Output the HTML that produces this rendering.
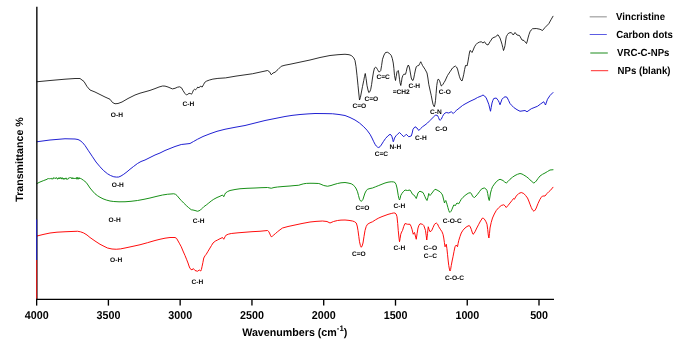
<!DOCTYPE html>
<html><head><meta charset="utf-8"><title>FTIR</title>
<style>
html,body{margin:0;padding:0;background:#fff;}
svg{display:block;font-family:"Liberation Sans",Arial,sans-serif;font-weight:bold;text-rendering:geometricPrecision;}
.c{fill:none;stroke-width:0.95;stroke-linejoin:round;stroke-linecap:round;}
.ax line{stroke:#000;stroke-width:1.35;}
.lab text{font-size:6.6px;fill:#000;}
.tl text{font-size:10.75px;fill:#000;}
.lg text{font-size:9.62px;fill:#000;}
</style></head><body>
<svg width="685" height="350" viewBox="0 0 685 350">
<rect width="685" height="350" fill="#fff"/>
<polyline class="c" style="stroke-width:0.82" stroke="#000" points="37.00,81.75 50.00,80.50 65.00,79.20 75.00,78.50 80.00,78.50 84.00,81.50 87.00,86.50 90.00,90.00 95.00,92.00 100.00,94.50 105.00,97.00 110.00,99.25 112.50,102.50 115.00,103.75 118.00,103.50 122.00,102.00 128.00,98.50 135.00,95.00 140.00,93.20 145.00,91.80 150.00,90.40 155.00,88.60 159.00,87.00 162.60,86.00 165.00,86.10 168.00,87.00 172.40,88.90 175.00,88.30 177.50,87.20 179.60,86.80 181.50,87.80 183.00,90.50 184.80,93.30 186.50,95.00 187.80,94.30 189.00,93.30 190.30,93.50 191.50,94.20 192.50,92.50 193.40,90.20 194.70,89.20 195.50,89.90 196.70,88.50 197.80,87.00 199.00,87.90 200.30,86.20 202.20,87.00 203.50,84.70 204.70,82.40 206.60,81.10 209.50,80.00 212.90,79.10 217.90,78.40 225.50,77.90 236.00,76.10 252.50,73.75 267.50,70.50 269.50,71.75 271.25,74.75 273.00,73.00 275.00,72.25 278.00,69.50 281.25,66.25 285.00,65.20 290.00,64.25 310.00,60.00 320.00,57.50 330.00,55.50 338.00,54.70 345.00,54.25 349.00,54.70 351.25,55.50 353.50,57.50 355.00,60.50 356.00,66.50 357.00,75.50 358.00,85.50 358.75,93.00 359.50,100.00 360.40,97.50 361.25,93.00 362.50,86.50 363.75,80.50 364.50,76.50 365.25,73.50 366.10,78.50 367.00,85.50 368.00,90.00 368.75,92.50 369.80,91.80 370.75,89.25 371.60,84.50 372.50,78.00 373.50,72.00 374.50,68.00 375.40,67.30 376.25,67.50 377.50,69.50 378.75,71.75 379.80,71.70 380.75,70.50 381.60,65.50 382.50,59.25 384.00,55.00 385.50,52.50 387.50,52.25 389.50,53.50 391.25,55.50 392.30,58.50 393.25,63.00 393.90,68.50 394.50,75.50 395.50,80.50 396.20,76.50 397.00,71.75 398.25,70.50 398.90,74.00 399.50,79.25 400.10,83.00 400.75,85.50 401.40,82.50 402.00,78.00 402.90,75.50 403.75,74.25 405.50,74.25 406.30,71.50 407.00,68.00 408.25,65.00 408.90,66.00 409.50,68.00 410.40,73.00 411.25,78.00 412.10,80.00 413.00,80.50 413.80,78.00 414.50,74.25 415.40,70.00 416.25,66.75 417.50,65.80 418.75,65.50 419.80,63.50 420.75,61.75 421.60,63.50 422.50,65.50 425.00,69.25 427.00,73.00 427.90,78.00 428.75,84.25 430.00,90.00 431.25,95.50 432.10,100.00 433.00,104.25 434.25,106.75 434.90,104.50 435.50,100.50 436.10,93.50 436.75,85.50 437.40,81.50 438.00,79.25 438.80,79.50 439.50,80.50 440.40,83.30 441.25,86.00 442.10,85.40 443.00,84.25 444.00,82.50 445.00,81.00 447.50,75.50 450.00,71.75 452.50,68.00 454.00,66.80 455.50,66.10 456.50,67.00 457.50,69.00 458.50,73.00 459.50,76.75 460.70,79.80 462.00,81.00 462.90,78.00 463.75,74.25 464.60,69.50 465.50,65.50 466.30,65.50 467.00,66.00 467.90,62.00 468.75,56.75 469.40,53.00 470.00,50.50 471.00,51.20 472.00,52.50 473.20,50.00 474.50,46.75 476.00,44.50 477.50,43.00 479.50,42.10 481.25,41.75 483.00,43.00 484.50,41.75 486.25,44.25 488.00,45.00 490.00,41.75 492.50,38.00 495.50,36.75 498.00,34.75 500.00,38.00 501.00,41.00 502.00,44.25 502.80,47.50 503.50,50.50 504.30,48.50 505.00,45.50 505.60,41.00 506.25,36.75 507.50,34.50 508.75,33.00 511.25,32.50 513.25,35.00 515.00,32.50 517.00,35.00 519.50,35.50 522.00,40.00 524.00,40.50 526.50,43.50 527.30,41.00 528.00,38.00 529.00,34.50 530.00,31.75 531.20,30.00 532.50,28.75 536.25,28.50 540.00,29.25 542.50,30.50 545.00,27.50 548.75,23.75 551.25,19.25 553.00,16.25"/>
<polyline class="c" stroke="#1414d0" points="37.00,141.75 50.00,140.00 65.00,138.75 75.00,139.00 78.00,139.50 80.00,140.50 82.50,142.50 85.00,145.50 88.50,150.80 92.50,156.75 96.00,162.00 100.00,166.75 103.50,170.50 107.50,173.75 110.50,175.50 113.75,176.75 116.50,177.10 118.75,177.00 121.00,176.00 123.75,174.25 127.00,171.80 130.00,169.25 133.50,166.50 137.50,163.50 141.00,161.50 145.00,160.00 150.00,157.50 155.00,155.00 160.00,153.00 165.00,150.50 170.00,148.50 175.00,146.50 181.25,144.50 185.00,144.10 190.00,143.50 193.50,141.50 197.50,139.25 203.00,136.50 210.00,133.75 217.00,131.30 225.00,129.25 235.00,127.30 245.00,125.50 255.00,123.00 265.00,120.50 275.00,118.50 285.00,116.50 292.00,115.40 300.00,114.50 308.00,113.90 315.00,113.50 325.00,113.60 332.50,113.75 339.00,114.50 345.00,115.50 350.00,117.50 355.00,120.00 359.50,123.00 363.75,126.75 367.00,130.20 370.00,134.25 372.00,138.00 373.75,141.75 375.00,144.20 376.25,146.00 377.50,147.10 378.75,147.50 380.00,146.70 381.25,145.00 383.30,141.70 385.50,138.50 387.80,136.00 390.00,134.25 391.10,135.00 392.00,136.75 392.70,139.50 393.25,141.75 393.90,140.20 394.50,138.00 396.00,135.80 397.50,134.25 399.50,132.50 401.25,134.25 403.75,136.75 406.25,134.25 408.75,136.75 411.25,136.00 412.20,133.00 413.00,129.25 415.00,126.75 417.00,128.00 418.75,130.50 420.50,128.70 422.50,126.75 425.00,125.00 427.50,123.00 430.00,120.50 432.50,118.00 434.00,116.50 435.50,115.00 437.50,115.50 438.50,117.50 439.50,120.00 440.40,120.00 441.25,119.25 442.50,116.50 443.75,114.25 445.00,113.10 446.25,112.50 448.75,113.00 451.25,111.75 453.25,113.50 454.70,112.00 456.25,110.50 460.00,107.50 462.50,105.50 465.00,104.00 470.00,101.30 475.00,99.00 477.50,97.50 481.25,96.00 483.00,95.00 484.60,96.00 486.25,98.00 487.50,101.00 488.75,104.25 489.70,108.00 490.50,111.25 491.20,107.50 492.00,103.00 492.90,100.30 493.75,98.50 496.25,98.00 498.25,100.50 499.20,102.50 500.00,104.75 501.00,102.00 502.00,99.25 503.50,97.70 505.00,96.75 507.00,97.25 508.50,100.30 510.00,103.50 512.00,105.70 513.75,107.50 517.00,109.70 520.00,111.25 525.00,110.50 527.00,111.75 531.25,108.75 537.50,106.25 540.50,104.00 543.75,101.75 544.70,103.50 545.50,105.00 546.50,102.00 547.50,99.25 550.00,95.50 553.00,92.50"/>
<polyline class="c" stroke="#0c8a0c" points="37.00,183.50 40.00,182.00 43.75,180.50 47.00,179.30 48.00,178.49 48.50,178.57 49.00,178.61 49.50,178.71 50.00,178.57 50.50,178.70 51.00,178.07 51.50,178.33 52.00,179.24 52.50,178.68 53.00,179.16 53.50,177.67 54.00,178.34 54.50,177.92 55.00,178.48 55.50,178.54 56.00,177.47 56.50,177.86 57.00,177.98 57.50,179.19 58.00,178.90 58.50,177.75 59.00,178.96 59.50,177.71 60.00,178.62 60.50,177.69 61.00,177.45 61.50,179.11 62.00,177.85 62.50,177.86 63.00,179.32 63.50,179.11 64.00,178.00 64.50,179.28 65.00,178.47 65.50,178.74 66.00,177.84 66.50,179.24 67.00,178.76 67.50,179.29 68.00,179.15 68.50,178.02 69.00,178.14 69.50,177.77 70.00,177.73 70.50,177.57 71.00,178.02 71.50,178.60 72.00,177.46 72.50,178.74 73.00,178.09 73.50,178.04 74.00,179.01 74.50,178.36 75.00,178.05 75.50,178.36 76.00,178.79 76.50,177.56 77.00,179.30 77.50,177.49 78.00,178.87 78.50,179.06 79.00,177.48 79.50,178.95 80.00,178.31 80.50,178.45 81.25,178.75 83.50,180.30 86.25,182.50 88.00,185.00 90.00,188.00 92.50,191.00 95.00,193.75 97.50,195.70 100.00,197.25 103.00,198.80 106.25,200.00 110.00,201.00 113.75,201.50 119.00,201.80 125.00,201.75 131.00,201.30 137.50,200.50 144.00,199.30 150.00,198.00 156.00,196.50 162.50,195.00 167.50,194.25 173.75,193.75 175.50,194.30 177.00,195.50 179.00,198.00 181.25,200.50 183.70,203.00 186.25,205.50 188.70,207.70 191.25,209.75 193.00,210.00 195.00,210.50 197.50,211.25 199.00,210.80 200.50,210.00 202.00,208.50 203.75,206.75 206.25,205.00 208.75,203.00 211.20,201.00 213.75,199.25 217.00,197.50 220.00,196.25 222.50,195.00 223.75,196.75 224.60,194.80 225.50,193.00 227.70,191.50 230.00,190.50 235.00,189.50 240.00,188.75 247.00,188.30 255.00,188.00 261.00,187.70 267.50,187.50 271.25,188.25 274.00,187.50 277.50,187.00 283.00,186.50 290.00,186.00 294.00,185.60 298.75,185.25 301.00,184.50 303.75,183.75 306.50,183.40 310.00,183.25 314.00,183.30 318.75,183.50 321.00,184.30 323.75,185.50 327.50,186.25 331.00,185.50 334.00,184.50 337.50,183.50 341.00,182.80 345.00,182.50 348.00,183.00 351.25,183.75 353.20,185.00 355.00,186.75 356.30,189.00 357.50,191.75 358.50,195.50 359.50,199.25 360.40,200.80 361.25,201.25 362.10,200.70 363.00,199.25 364.00,196.00 365.00,193.00 366.20,190.80 367.50,189.25 370.00,188.50 372.50,188.00 375.50,186.80 378.75,185.50 382.00,184.20 385.00,183.00 388.00,182.20 391.25,181.75 393.50,181.90 395.00,182.50 396.10,184.50 397.00,188.00 397.70,192.00 398.25,195.50 398.90,198.50 399.50,200.00 400.10,198.50 400.75,195.50 402.00,193.30 403.25,191.75 405.00,190.00 407.50,190.50 410.00,190.00 411.30,192.00 412.50,194.25 414.50,195.50 415.40,197.20 416.25,198.50 417.10,196.00 418.00,193.00 419.00,191.80 420.00,191.25 423.00,192.50 424.00,194.50 425.00,196.75 426.00,199.00 427.00,200.50 427.90,197.50 428.75,193.50 429.40,194.70 430.00,195.50 431.00,194.30 432.00,193.00 433.50,191.00 435.00,189.25 437.00,190.00 440.00,191.75 441.30,193.20 442.50,195.00 443.50,199.00 444.50,203.00 445.10,201.50 445.75,200.50 446.40,202.20 447.00,204.25 447.90,207.50 448.75,210.50 449.40,212.00 450.00,212.50 451.00,211.30 452.00,209.25 452.90,207.00 453.75,205.00 455.50,205.50 456.20,204.00 457.00,203.00 458.75,203.75 460.00,201.50 461.25,199.25 463.00,197.30 465.00,195.50 467.00,194.00 468.75,193.00 470.50,192.70 471.50,194.00 472.50,196.00 473.50,197.20 474.50,197.50 476.00,196.00 477.50,194.25 479.40,191.70 481.25,189.25 483.00,188.30 484.50,188.00 485.75,188.80 487.00,190.50 487.70,193.50 488.25,196.75 488.80,199.50 489.25,200.50 489.90,197.00 490.50,193.00 491.50,189.50 492.50,186.75 494.40,184.10 496.25,181.75 498.20,180.20 500.00,179.25 503.00,180.50 504.70,182.00 506.25,183.00 508.00,181.50 510.00,179.25 512.50,177.20 515.00,175.50 517.50,174.30 520.00,173.50 522.00,174.00 523.75,175.00 526.20,176.50 528.75,178.50 531.20,181.00 533.75,183.00 535.00,182.30 536.25,181.00 538.00,178.50 540.00,176.00 542.50,174.30 545.00,173.00 547.50,171.50 550.00,170.00 553.00,169.75"/>
<polyline class="c" stroke="#ff0000" points="37.00,236.00 43.00,234.50 50.00,233.00 57.00,232.20 65.00,231.75 71.00,231.50 77.50,231.25 80.50,231.80 83.75,233.00 87.00,235.00 90.00,237.50 95.00,241.00 100.00,244.25 104.00,246.30 107.50,248.00 112.00,249.00 116.25,249.25 120.50,248.90 125.00,248.00 132.00,246.50 140.00,244.75 147.50,242.70 155.00,240.50 160.00,239.25 165.00,238.20 170.00,237.50 175.00,237.50 176.50,238.30 177.50,240.00 179.30,243.20 181.25,246.75 183.00,251.00 185.00,255.50 186.50,259.20 188.00,263.00 189.00,266.00 190.00,268.50 192.00,270.00 193.25,268.50 195.00,270.50 197.50,271.25 199.25,270.00 200.75,271.00 201.40,269.50 202.00,266.75 202.90,262.50 203.75,258.00 205.00,255.80 206.25,254.25 208.00,251.30 210.00,248.00 211.50,245.50 213.00,243.00 215.20,241.20 217.50,240.00 220.00,238.70 222.50,237.50 223.75,239.25 225.00,236.80 226.25,235.00 228.70,234.10 231.25,233.50 238.00,232.80 245.00,232.25 252.00,231.70 260.00,231.25 267.50,230.50 268.50,231.30 269.50,233.00 270.40,235.20 271.25,236.75 272.50,236.10 273.75,235.00 275.50,233.50 277.50,231.75 280.00,229.80 282.50,228.00 288.00,226.50 295.00,225.00 302.00,223.50 310.00,222.00 316.00,221.40 322.50,221.00 327.00,221.50 330.00,223.00 333.50,221.50 337.50,220.50 341.00,220.10 345.00,220.00 349.00,220.40 352.50,221.00 354.50,221.70 356.25,223.00 357.20,226.00 358.00,230.50 358.80,236.50 359.50,241.75 360.40,245.50 361.25,247.25 362.10,246.00 363.00,243.00 364.00,236.50 365.00,230.50 366.20,226.50 367.50,224.25 370.00,222.80 372.50,221.75 375.50,219.80 378.75,218.00 382.00,216.60 385.00,215.50 388.00,214.40 391.25,213.50 393.30,213.00 395.00,213.00 396.10,214.00 397.00,216.75 397.70,223.50 398.25,230.50 398.90,237.00 399.50,241.75 400.10,238.50 400.75,234.25 401.60,232.00 402.50,230.50 403.70,226.50 405.00,223.50 407.50,224.25 410.00,224.25 411.00,226.20 412.00,229.25 412.70,232.00 413.25,234.25 413.90,233.00 414.50,232.50 415.40,236.00 416.25,239.25 417.10,233.50 418.00,228.00 419.00,225.20 420.00,223.75 422.50,224.25 423.75,225.50 424.70,228.00 425.50,230.50 426.20,235.50 426.75,240.00 427.50,233.50 428.25,226.75 429.10,229.50 430.00,231.75 431.75,230.50 433.00,227.50 434.50,224.25 436.25,223.00 437.50,224.00 438.75,226.75 440.30,229.20 442.00,231.75 443.00,234.30 443.75,238.00 444.40,242.50 445.00,246.75 445.60,246.00 446.25,244.25 446.90,248.50 447.50,254.25 448.10,260.00 448.75,265.50 449.40,269.00 450.00,271.00 450.60,269.50 451.25,265.50 452.10,261.00 453.00,256.75 454.00,251.50 455.00,246.75 456.25,245.00 457.50,246.75 458.10,243.50 458.75,240.50 460.00,236.50 461.25,233.00 463.00,230.20 465.00,228.00 467.00,226.50 469.25,225.50 470.30,227.00 471.25,229.25 472.10,232.00 473.00,234.25 474.00,233.50 475.00,231.75 476.80,228.00 478.75,224.25 480.50,221.00 482.50,218.00 483.70,218.40 485.00,220.00 486.00,221.80 487.00,224.25 487.70,229.50 488.30,235.00 488.90,238.00 489.50,233.50 490.00,228.00 491.20,222.50 492.50,218.00 494.30,214.00 496.25,210.50 498.70,207.70 501.25,205.50 503.75,204.75 505.00,205.80 506.25,207.50 508.00,205.50 510.00,203.00 512.00,200.50 513.50,198.50 514.30,199.30 516.25,196.00 518.75,193.50 521.25,192.50 523.75,193.50 525.60,195.50 527.50,198.00 528.80,201.00 530.00,204.25 531.20,207.30 532.50,210.00 534.00,211.25 535.20,210.00 536.25,208.00 538.00,203.50 540.00,199.25 541.30,197.30 542.50,196.00 545.00,196.00 547.00,193.50 548.75,191.75 550.50,190.30 553.00,187.25"/>
<g class="ax">
<line x1="36.85" y1="6.7" x2="36.85" y2="299.8"/>
<line x1="36.6" y1="219.5" x2="36.6" y2="260" style="stroke:#2222bb;stroke-width:1.1"/>
<line x1="36.6" y1="260" x2="36.6" y2="298.7" style="stroke:#d81818;stroke-width:1.1"/>
<line x1="36.15" y1="299.4" x2="554.0" y2="299.4"/>
<line x1="36.65" y1="299.4" x2="36.65" y2="305.6"/>
<line x1="108.4" y1="299.4" x2="108.4" y2="305.6"/>
<line x1="180.15" y1="299.4" x2="180.15" y2="305.6"/>
<line x1="251.95" y1="299.4" x2="251.95" y2="305.6"/>
<line x1="323.7" y1="299.4" x2="323.7" y2="305.6"/>
<line x1="395.5" y1="299.4" x2="395.5" y2="305.6"/>
<line x1="467.25" y1="299.4" x2="467.25" y2="305.6"/>
<line x1="539.0" y1="299.4" x2="539.0" y2="305.6"/>
</g>
<g class="tl">
<text transform="translate(36.75,318.5) scale(1,1.06)" text-anchor="middle">4000</text>
<text transform="translate(108.50,318.5) scale(1,1.06)" text-anchor="middle">3500</text>
<text transform="translate(180.25,318.5) scale(1,1.06)" text-anchor="middle">3000</text>
<text transform="translate(252.05,318.5) scale(1,1.06)" text-anchor="middle">2500</text>
<text transform="translate(323.80,318.5) scale(1,1.06)" text-anchor="middle">2000</text>
<text transform="translate(395.60,318.5) scale(1,1.06)" text-anchor="middle">1500</text>
<text transform="translate(467.35,318.5) scale(1,1.06)" text-anchor="middle">1000</text>
<text transform="translate(539.10,318.5) scale(1,1.06)" text-anchor="middle">500</text>
</g>
<g class="lab">
<text x="116.90" y="117.15" text-anchor="middle">O-H</text>
<text x="188.40" y="105.85" text-anchor="middle">C-H</text>
<text x="359.25" y="108.45" text-anchor="middle">C=O</text>
<text x="371.25" y="101.45" text-anchor="middle">C=O</text>
<text x="383.10" y="79.20" text-anchor="middle">C=C</text>
<text x="401.20" y="93.85" text-anchor="middle">=CH2</text>
<text x="414.25" y="88.15" text-anchor="middle">C-H</text>
<text x="435.80" y="113.70" text-anchor="middle">C-N</text>
<text x="444.75" y="94.00" text-anchor="middle">C-O</text>
<text x="117.80" y="187.05" text-anchor="middle">O-H</text>
<text x="381.35" y="156.15" text-anchor="middle">C=C</text>
<text x="395.40" y="149.25" text-anchor="middle">N-H</text>
<text x="420.90" y="139.80" text-anchor="middle">C-H</text>
<text x="441.40" y="130.55" text-anchor="middle">C-O</text>
<text x="114.65" y="222.05" text-anchor="middle">O-H</text>
<text x="198.65" y="222.80" text-anchor="middle">C-H</text>
<text x="362.40" y="209.55" text-anchor="middle">C=O</text>
<text x="399.40" y="207.55" text-anchor="middle">C-H</text>
<text x="452.30" y="222.55" text-anchor="middle">C-O-C</text>
<text x="116.15" y="262.05" text-anchor="middle">O-H</text>
<text x="197.40" y="283.80" text-anchor="middle">C-H</text>
<text x="358.75" y="256.10" text-anchor="middle">C=O</text>
<text x="399.40" y="250.05" text-anchor="middle">C-H</text>
<text x="430.40" y="249.55" text-anchor="middle">C–O</text>
<text x="430.40" y="257.55" text-anchor="middle">C–C</text>
<text x="454.55" y="279.90" text-anchor="middle">C-O-C</text>
</g>
<text transform="translate(294.75,335.8) scale(1,1.03)" text-anchor="middle" font-size="10.7px" fill="#000">Wavenumbers (cm<tspan font-size="7.8px" dy="-5">-1</tspan><tspan dy="5">)</tspan></text>
<text transform="translate(22.8,159.5) rotate(-90)" text-anchor="middle" font-size="10.65px" fill="#000">Transmittance %</text>
<g class="lg">
<line x1="589.7" y1="16.85" x2="606.8" y2="16.85" stroke="#8c8c8c" stroke-width="1"/>
<line x1="589.7" y1="34.5" x2="606.8" y2="34.5" stroke="#4a4ae0" stroke-width="0.9"/>
<line x1="590.3" y1="53" x2="607.8" y2="53" stroke="#4fa64f" stroke-width="1.3"/>
<line x1="590.9" y1="70.7" x2="608.2" y2="70.7" stroke="#ff2020" stroke-width="0.95"/>
<text transform="translate(616.1,20.3) scale(1,1.065)">Vincristine</text>
<text transform="translate(616.3,37.7) scale(1,1.065)">Carbon dots</text>
<text transform="translate(617.1,55.8) scale(1,1.065)">VRC-C-NPs</text>
<text transform="translate(617.6,74.0) scale(1,1.065)">NPs (blank)</text>
</g>
</svg>
</body></html>
